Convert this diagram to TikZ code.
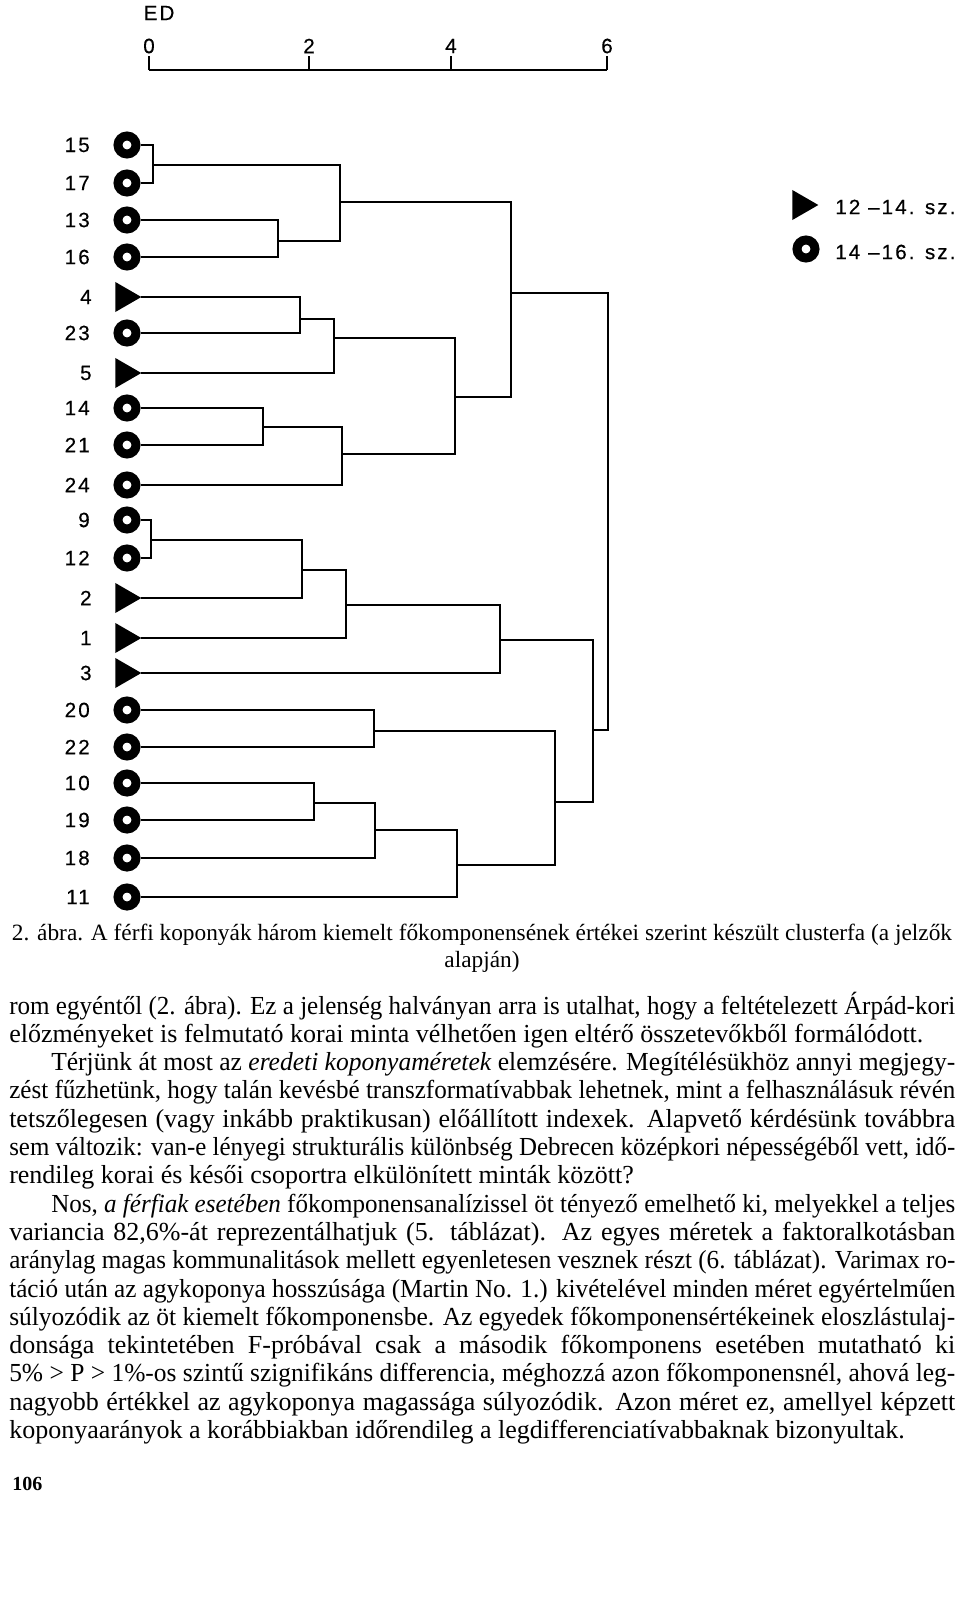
\documentclass[tikz,border=0pt]{standalone}
\usepackage{fontspec}
\usepackage{graphicx}
\setmainfont{Liberation Serif}
\newfontfamily\labfont[LetterSpace=10, FakeBold=0.4]{Liberation Sans}
\usetikzlibrary{calc, shapes.geometric}
\newsavebox{\bodybox}
\newcommand{\fitline}[2]{\sbox{\bodybox}{#2}\ifdim\wd\bodybox>#1\relax\resizebox{#1}{\height}{\usebox{\bodybox}}\else\makebox[#1][s]{#2}\fi}
\newcommand{\jline}[1]{\fitline{709.5pt}{#1}}
\newcommand{\iline}[1]{\hspace*{31.5pt}\fitline{678pt}{#1}}

\begin{document}
\begin{tikzpicture}[x=0.75pt, y=-0.75pt,
  lab/.style={font=\labfont\fontsize{15.5}{18}\selectfont, inner sep=0},
  tag/.style={lab, xshift=-17.6pt},
  ring/.style={circle, draw, fill=white, line width=6.75pt, minimum size=13.5pt, inner sep=0},
  wedge/.style={regular polygon, regular polygon sides=3, shape border rotate=-90, fill, minimum size=26pt, inner sep=0, outer sep=0},
  twig/.style={line width=1pt},
  limb/.style={line width=2.2pt},
  txt/.style={font=\fontsize{19.5}{23}\selectfont, inner sep=0, anchor=base west},
  captxt/.style={font=\fontsize{17.5}{21}\selectfont, inner sep=0, anchor=base}]
  \fill[white] (0,0) rectangle (960,1624);
  \useasboundingbox (0,0) rectangle (960,1624);

  \node[lab] (ed) at (159,13) {ED};
  \coordinate (t0) at (149,70);
  \coordinate (t2) at (309,70);
  \coordinate (t4) at (451,70);
  \coordinate (t6) at (607,70);
  \node[lab] (n0) at (149,46) {0};
  \node[lab] (n2) at (309,46) {2};
  \node[lab] (n4) at (451,46) {4};
  \node[lab] (n6) at (607,46) {6};
  \draw[twig] (t0) -- (t6);
  \draw[twig] (t0) -- ++(0,-14);
  \draw[twig] (t2) -- ++(0,-14);
  \draw[twig] (t4) -- ++(0,-14);
  \draw[twig] (t6) -- ++(0,-14);

  \node[ring, label={[tag]left:15}] (l15) at (127,145) {};
  \node[ring, label={[tag]left:17}] (l17) at (127,183) {};
  \node[ring, label={[tag]left:13}] (l13) at (127,220) {};
  \node[ring, label={[tag]left:16}] (l16) at (127,257) {};
  \node[wedge, label={[tag]left:4}] (l4) at (124,297) {};
  \node[ring, label={[tag]left:23}] (l23) at (127,333) {};
  \node[wedge, label={[tag]left:5}] (l5) at (124,373) {};
  \node[ring, label={[tag]left:14}] (l14) at (127,408) {};
  \node[ring, label={[tag]left:21}] (l21) at (127,445) {};
  \node[ring, label={[tag]left:24}] (l24) at (127,485) {};
  \node[ring, label={[tag]left:9}] (l9) at (127,520) {};
  \node[ring, label={[tag]left:12}] (l12) at (127,558) {};
  \node[wedge, label={[tag]left:2}] (l2) at (124,598) {};
  \node[wedge, label={[tag]left:1}] (l1) at (124,638) {};
  \node[wedge, label={[tag]left:3}] (l3) at (124,673) {};
  \node[ring, label={[tag]left:20}] (l20) at (127,710) {};
  \node[ring, label={[tag]left:22}] (l22) at (127,747) {};
  \node[ring, label={[tag]left:10}] (l10) at (127,783) {};
  \node[ring, label={[tag]left:19}] (l19) at (127,820) {};
  \node[ring, label={[tag]left:18}] (l18) at (127,858) {};
  \node[ring, label={[tag]left:11}] (l11) at (127,897) {};

  \coordinate (m1517) at (153,165);
  \coordinate (m1316) at (278,241);
  \coordinate (m1513) at (340,202);
  \coordinate (m423) at (300,319);
  \coordinate (m45) at (334,338);
  \coordinate (m1421) at (263,427);
  \coordinate (m1424) at (342,454);
  \coordinate (m414) at (455,397);
  \coordinate (mtop) at (511,293);
  \coordinate (m912) at (151,540);
  \coordinate (m92) at (302,570);
  \coordinate (m91) at (346,605);
  \coordinate (m93) at (500,640);
  \coordinate (m2022) at (374,731);
  \coordinate (m1019) at (314,803);
  \coordinate (m1018) at (375,830);
  \coordinate (m1011) at (457,865);
  \coordinate (m2010) at (555,802);
  \coordinate (mlow) at (593,730);
  \coordinate (root) at (608,510);

  \draw[twig] (l15) -| (m1517);
  \draw[twig] (l17) -| (m1517);
  \draw[twig] (l13) -| (m1316);
  \draw[twig] (l16) -| (m1316);
  \draw[twig] (m1517) -| (m1513);
  \draw[twig] (m1316) -| (m1513);
  \draw[twig] (m1513) -| (mtop);
  \draw[twig] (l23) -| (m423);
  \draw[twig] (l14) -| (m1421);
  \draw[twig] (l21) -| (m1421);
  \draw[twig] (m1421) -| (m1424);
  \draw[twig] (l24) -| (m1424);
  \draw[twig] (m1424) -| (m414);
  \draw[twig] (l9) -| (m912);
  \draw[twig] (l12) -| (m912);
  \draw[twig] (m912) -| (m92);
  \draw[twig] (l20) -| (m2022);
  \draw[twig] (l22) -| (m2022);
  \draw[twig] (l10) -| (m1019);
  \draw[twig] (l19) -| (m1019);
  \draw[twig] (m1019) -| (m1018);
  \draw[twig] (l18) -| (m1018);
  \draw[twig] (m1018) -| (m1011);
  \draw[twig] (l11) -| (m1011);
  \draw[twig] (m1011) -| (m2010);
  \draw[twig] (m2022) -| (m2010);

  \draw[limb] (l4) -| (m423);
  \draw[limb] (m423) -- (m423 |- l23);
  \draw[limb] (m423) -| (m45);
  \draw[limb] (l5) -| (m45);
  \draw[limb] (m45) -| (m414);
  \draw[limb] (m414) -| (mtop);
  \draw[limb] (mtop) -| (root);
  \draw[limb] (l2) -| (m92);
  \draw[limb] (m92) -- (m92 |- m912);
  \draw[limb] (m92) -| (m91);
  \draw[limb] (l1) -| (m91);
  \draw[limb] (m91) -| (m93);
  \draw[limb] (l3) -| (m93);
  \draw[limb] (m93) -| (mlow);
  \draw[limb] (m2010) -| (mlow);
  \draw[limb] (mlow) -| (root);

  \node[wedge] (k12) at (801,205) {};
  \node[lab, anchor=west] (s12) at (835,207) {12 –14. sz.};
  \node[ring] (k14) at (806,249) {};
  \node[lab, anchor=west] (s14) at (835,252) {14 –16. sz.};

  \node[captxt] (cap1) at (482,940) {2. ábra. A férfi koponyák három kiemelt főkomponensének értékei szerint készült clusterfa (a jelzők};
  \node[captxt] (cap2) at (482,967) {alapján)};

  \node[txt] (p1) at (9,1014) {\jline{rom egyéntől (2. ábra). Ez a jelenség halványan arra is utalhat, hogy a feltételezett Árpád-kori}};
  \node[txt] (p2) at (9,1042.3) {előzményeket is felmutató korai minta vélhetően igen eltérő összetevőkből formálódott.};
  \node[txt] (p3) at (9,1070.6) {\iline{Térjünk át most az \textit{eredeti koponyaméretek} elemzésére. Megítélésükhöz annyi megjegy-}};
  \node[txt] (p4) at (9,1098.9) {\jline{zést fűzhetünk, hogy talán kevésbé transzformatívabbak lehetnek, mint a felhasználásuk révén}};
  \node[txt] (p5) at (9,1127.2) {\jline{tetszőlegesen (vagy inkább praktikusan) előállított indexek. Alapvető kérdésünk továbbra}};
  \node[txt] (p6) at (9,1155.5) {\jline{sem változik: van-e lényegi strukturális különbség Debrecen középkori népességéből vett, idő-}};
  \node[txt] (p7) at (9,1183.8) {rendileg korai és késői csoportra elkülönített minták között?};
  \node[txt] (p8) at (9,1212.1) {\iline{Nos, \textit{a férfiak esetében} főkomponensanalízissel öt tényező emelhető ki, melyekkel a teljes}};
  \node[txt] (p9) at (9,1240.4) {\jline{variancia 82,6\%-át reprezentálhatjuk (5. táblázat). Az egyes méretek a faktoralkotásban}};
  \node[txt] (p10) at (9,1268.7) {\jline{aránylag magas kommunalitások mellett egyenletesen vesznek részt (6. táblázat). Varimax ro-}};
  \node[txt] (p11) at (9,1297) {\jline{táció után az agykoponya hosszúsága (Martin No. 1.) kivételével minden méret egyértelműen}};
  \node[txt] (p12) at (9,1325.3) {\jline{súlyozódik az öt kiemelt főkomponensbe. Az egyedek főkomponensértékeinek eloszlástulaj-}};
  \node[txt] (p13) at (9,1353.6) {\jline{donsága tekintetében F-próbával csak a második főkomponens esetében mutatható ki}};
  \node[txt] (p14) at (9,1381.9) {\jline{5\% > P > 1\%-os szintű szignifikáns differencia, méghozzá azon főkomponensnél, ahová leg-}};
  \node[txt] (p15) at (9,1410.2) {\jline{nagyobb értékkel az agykoponya magassága súlyozódik. Azon méret ez, amellyel képzett}};
  \node[txt] (p16) at (9,1438.5) {koponyaarányok a korábbiakban időrendileg a legdifferenciatívabbaknak bizonyultak.};
  \node[txt, font=\bfseries\fontsize{15}{18}\selectfont] (pg) at (12,1490) {106};
\end{tikzpicture}
\end{document}
